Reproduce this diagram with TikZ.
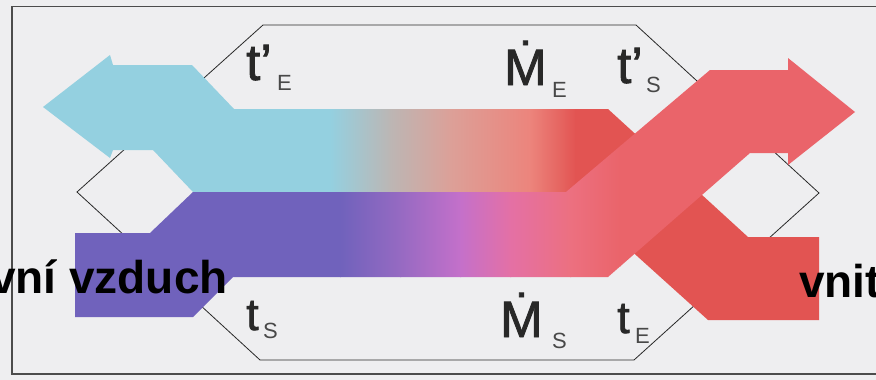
\documentclass[tikz,border=0pt]{standalone}
\usepackage{fontspec}
\setmainfont{Liberation Sans}
\newfontfamily\labfont{Liberation Sans}[FakeBold=1.6]
\definecolor{paper}{RGB}{238,238,240}
\definecolor{cyA}{RGB}{148,208,224}
\definecolor{gyA}{RGB}{188,182,180}
\definecolor{pkA}{RGB}{220,160,152}
\definecolor{slA}{RGB}{236,132,124}
\definecolor{rdA}{RGB}{226,84,82}
\definecolor{puB}{RGB}{112,98,188}
\definecolor{vlB}{RGB}{150,106,194}
\definecolor{mgB}{RGB}{196,112,202}
\definecolor{pkB}{RGB}{228,112,165}
\definecolor{rsB}{RGB}{236,112,128}
\definecolor{rdB}{RGB}{234,100,106}
\definecolor{ink}{RGB}{40,40,40}
\begin{document}
\begin{tikzpicture}[x=1pt,y=-1pt,
  lab/.style={inner sep=0pt, anchor=base west, text=ink, font=\labfont\fontsize{51}{51}\selectfont},
  labs/.style={inner sep=0pt, anchor=base west, text=ink, font=\labfont\fontsize{45}{45}\selectfont},
  sub/.style={inner sep=0pt, anchor=base west, text=ink!85, font=\fontsize{22}{22}\selectfont},
  big/.style={inner sep=0pt, font=\bfseries\fontsize{46}{46}\selectfont, text=black},
  frame/.style={line width=1.2pt, draw=black!70},
  hexline/.style={line width=0.8pt, draw=ink}]
\fill[paper] (0,0) rectangle (876,380);
\useasboundingbox (0,0) rectangle (876,380);
\clip (0,0) rectangle (876,380);
\draw[frame] (12,6.5) rectangle (900,374);
% heat exchanger outline
\draw[hexline] (263,25) -- (636,25) -- (819,193) -- (634,360) -- (260,360) -- (77,192) -- cycle;
% upper band (indoor -> exhaust)
\begin{scope}
\clip (43,107) -- (110,55) -- (113,65) -- (192,65) -- (234,109) -- (608,109) -- (748,237) -- (819,237) -- (819,320) -- (708,320) -- (566,192) -- (193,192) -- (153,150) -- (113,150) -- (110,158) -- cycle;
\fill[cyA] (0,0) rectangle (331,400);
\shade[left color=cyA, right color=gyA] (330,0) rectangle (391,400);
\shade[left color=gyA, right color=pkA] (390,0) rectangle (451,400);
\shade[left color=pkA, right color=slA] (450,0) rectangle (531,400);
\shade[left color=slA, right color=rdA] (530,0) rectangle (576,400);
\fill[rdA] (575,0) rectangle (900,400);
\end{scope}
% lower band (outdoor -> supply)
\begin{scope}
\clip (75,233) -- (150,233) -- (193,192) -- (566,192) -- (710,70) -- (788,70) -- (788,58) -- (855,112) -- (788,165) -- (788,153) -- (750,153) -- (608,277) -- (233,277) -- (193,317) -- (75,317) -- cycle;
\fill[puB] (0,0) rectangle (341,400);
\shade[left color=puB, right color=vlB] (340,0) rectangle (401,400);
\shade[left color=vlB, right color=mgB] (400,0) rectangle (461,400);
\shade[left color=mgB, right color=pkB] (460,0) rectangle (511,400);
\shade[left color=pkB, right color=rsB] (510,0) rectangle (571,400);
\shade[left color=rsB, right color=rdB] (570,0) rectangle (621,400);
\fill[rdB] (620,0) rectangle (900,400);
\end{scope}
% labels
\node[lab] (tEp) at (246,80) {t’};
\node[sub] (tEpsub) at (277,90) {E};
\node[lab] (ME) at (504,85) {Ṁ};
\node[sub] (MEsub) at (552,97) {E};
\node[lab] (tSp) at (617,83) {t’};
\node[sub] (tSpsub) at (646,92) {S};
\node[labs] (tS) at (246,330) {t};
\node[sub] (tSsub) at (263,338) {S};
\node[lab] (MS) at (500,337) {Ṁ};
\node[sub] (MSsub) at (552,348) {S};
\node[labs] (tE) at (617,333) {t};
\node[sub] (tEsub) at (635,343) {E};
% side texts
\node[big, anchor=base east] (outdoor) at (228,293) {venkovní vzduch};
\node[big, anchor=base west] (indoor) at (799,297) {vnitřní vzduch};
\end{tikzpicture}
\end{document}
